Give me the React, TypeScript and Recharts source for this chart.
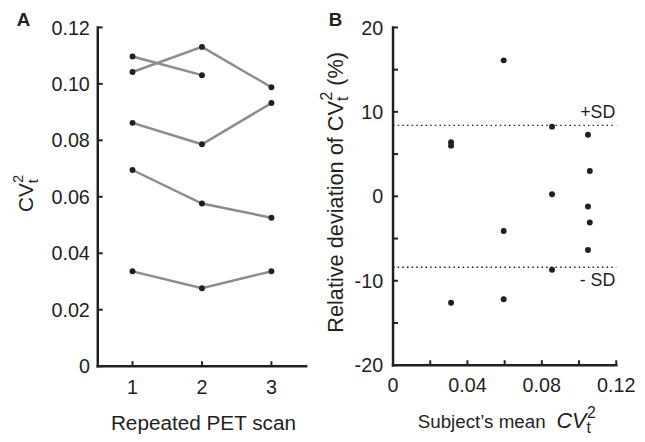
import React from 'react';
import { ComposedChart, Scatter, XAxis, YAxis, ReferenceLine } from 'recharts';

// Panel A: CVt^2 per subject over repeated PET scans
const scans = [1, 2, 3];
const subject1 = [0.1097, 0.1031];
const subject2 = [0.1042, 0.1131, 0.0988];
const subject3 = [0.0862, 0.0786, 0.0932];
const subject4 = [0.0695, 0.0576, 0.0526];
const subject5 = [0.0336, 0.0276, 0.0336];
const cvTicks = [0, 0.02, 0.04, 0.06, 0.08, 0.1, 0.12];

// Panel B: relative deviation vs subject mean
const meanCv = [0.0312, 0.0312, 0.0312, 0.0595, 0.0595, 0.0595, 0.0855, 0.0855, 0.0855, 0.1048, 0.1058, 0.1048, 0.1058, 0.1048];
const relDev = [6.0, 6.4, -12.6, 16.1, -4.1, -12.2, 8.25, 0.25, -8.7, 7.3, 3.0, -1.2, -3.1, -6.35];
const sdLimit = 8.4;
const meanTicksLabelled = [0, 0.04, 0.08, 0.12];
const meanTicksAll = [0, 0.02, 0.04, 0.06, 0.08, 0.1, 0.12];
const devTicksLabelled = [-20, -10, 0, 10, 20];
const devTicksAll = [-20, -15, -10, -5, 0, 5, 10, 15, 20];

const ink = '#231f20';
const lineGrey = '#8c8c8c';
const font = 'Arial, "Liberation Sans", Helvetica, sans-serif';

const subjects = [subject1, subject2, subject3, subject4, subject5].map(vals =>
  vals.map((v, i) => ({ x: scans[i], y: v }))
);
const devPoints = meanCv.map((x, i) => ({ x, y: relDev[i] }));

const fmt2 = (v: number) => (v === 0 ? '0' : v.toFixed(2));

const Dot = (props: any) =>
  props.cx == null ? null : <circle cx={props.cx} cy={props.cy} r={3} fill={ink} />;

// axis line drawn as a filled bar (path) along the reference line
const axisShape = (p: any) => {
  const { x1, y1, x2, y2 } = p;
  if ([x1, y1, x2, y2].some(v => typeof v !== 'number' || isNaN(v))) return null;
  const h = 1.25;
  let d;
  if (Math.abs(x1 - x2) < 0.01) {
    const top = Math.min(y1, y2) - h;
    const bot = Math.max(y1, y2) + h;
    d = `M${x1 - h},${top}H${x1 + h}V${bot}H${x1 - h}Z`;
  } else {
    const l = Math.min(x1, x2) - h;
    const r = Math.max(x1, x2) + h;
    d = `M${l},${y1 - h}H${r}V${y1 + h}H${l}Z`;
  }
  return <path d={d} fill={ink} stroke="none" />;
};

// ticks draw their own small inward mark next to the label
const yTick = (labelled: number[] | null, fmt: (v: number) => string, margin: number) => (props: any) => {
  const { x, y, payload } = props;
  const v = payload.value;
  const ax = x + margin;
  return (
    <g>
      <path d={`M${ax},${y - 1}h5v2h-5Z`} fill={ink} stroke="none" />
      {(!labelled || labelled.includes(v)) && (
        <text x={x} y={y} dy="0.36em" textAnchor="end" fontSize={20} fontFamily={font} fill={ink}>
          {fmt(v)}
        </text>
      )}
    </g>
  );
};

const xTick = (labelled: number[] | null, fmt: (v: number) => string, margin: number) => (props: any) => {
  const { x, y, payload } = props;
  const v = payload.value;
  const ay = y - margin;
  return (
    <g>
      <path d={`M${x - 1},${ay}v-5h2v5Z`} fill={ink} stroke="none" />
      {(!labelled || labelled.includes(v)) && (
        <text x={x} y={y} dy="0.71em" textAnchor="middle" fontSize={20} fontFamily={font} fill={ink}>
          {fmt(v)}
        </text>
      )}
    </g>
  );
};

const labelA_y = () => (
  <g fontFamily={font} fill={ink}>
    <text x={17} y={24} fontSize={19} fontWeight="bold">A</text>
    <text x={33} y={193} fontSize={21} textAnchor="middle" transform="rotate(-90 33 193)">
      CV<tspan fontSize={15} dy={5}>t</tspan><tspan fontSize={15} dx={-4} dy={-15}>2</tspan>
    </text>
  </g>
);

const labelA_x = () => (
  <text x={206} y={433} fontSize={21} textAnchor="middle" fontFamily={font} fill={ink}>
    Repeated PET scan
  </text>
);

const labelB_y = () => (
  <g fontFamily={font} fill={ink}>
    <text x={13} y={24} fontSize={19} fontWeight="bold">B</text>
    <text x={27} y={192} fontSize={22} textAnchor="middle" transform="rotate(-90 27 192)">
      Relative deviation of CV<tspan fontSize={16} dy={5}>t</tspan>
      <tspan fontSize={16} dx={-4} dy={-16}>2</tspan><tspan dy={11}> (%)</tspan>
    </text>
  </g>
);

const labelB_x = () => (
  <text x={103} y={431} fontSize={19} fontFamily={font} fill={ink}>
    Subject’s mean<tspan dx={11} fontSize={22} fontStyle="italic">CV</tspan>
    <tspan fontSize={16} dy={5}>t</tspan><tspan fontSize={16} dx={-4} dy={-16}>2</tspan>
  </text>
);

const sdLabel = (text: string, above: boolean) => (props: any) => {
  const vb = props.viewBox || {};
  return (
    <text x={vb.x + vb.width - 1} y={above ? vb.y - 7 : vb.y + 19} textAnchor="end"
      fontSize={18} fontFamily={font} fill={ink}>
      {text}
    </text>
  );
};

function PanelA() {
  return (
    <ComposedChart width={320} height={442} margin={{ top: 25, right: 10, bottom: 34, left: 39 }}>
      <XAxis dataKey="x" type="number" domain={[0.5, 3.5]} ticks={scans}
        axisLine={false} tickLine={false} tickSize={0} tickMargin={14}
        tick={xTick(null, (v) => String(v), 14)} height={40} label={{ content: labelA_x }} />
      <YAxis dataKey="y" type="number" domain={[0, 0.12]} ticks={cvTicks}
        axisLine={false} tickLine={false} tickSize={0} tickMargin={8}
        tick={yTick(null, fmt2, 8)} width={60} label={{ content: labelA_y }} />
      {subjects.map((pts, i) => (
        <Scatter key={i} data={pts} line={{ stroke: lineGrey, strokeWidth: 2.5 }}
          shape={Dot} isAnimationActive={false} />
      ))}
      <ReferenceLine x={0.5} ifOverflow="visible" shape={axisShape} />
      <ReferenceLine y={0} ifOverflow="visible" shape={axisShape} />
    </ComposedChart>
  );
}

function PanelB() {
  return (
    <ComposedChart width={325} height={442} margin={{ top: 25, right: 21, bottom: 35, left: 28 }}>
      <XAxis dataKey="x" type="number" domain={[0, 0.12]} ticks={meanTicksAll}
        axisLine={false} tickLine={false} tickSize={0} tickMargin={13}
        tick={xTick(meanTicksLabelled, fmt2, 13)} height={40} label={{ content: labelB_x }} />
      <YAxis dataKey="y" type="number" domain={[-20, 20]} ticks={devTicksAll}
        axisLine={false} tickLine={false} tickSize={0} tickMargin={10}
        tick={yTick(devTicksLabelled, (v) => String(v), 10)} width={50} label={{ content: labelB_y }} />
      <ReferenceLine y={sdLimit} stroke={ink} strokeWidth={1.5} strokeDasharray="1.5 3.2"
        label={{ content: sdLabel('+SD', true) }} />
      <ReferenceLine y={-sdLimit} stroke={ink} strokeWidth={1.5} strokeDasharray="1.5 3.2"
        label={{ content: sdLabel('- SD', false) }} />
      <Scatter data={devPoints} shape={Dot} isAnimationActive={false} />
      <ReferenceLine x={0} ifOverflow="visible" shape={axisShape} />
      <ReferenceLine y={-20} ifOverflow="visible" shape={axisShape} />
    </ComposedChart>
  );
}

export default function App() {
  return (
    <div style={{ display: 'flex', marginLeft: -8, marginTop: -8 }}>
      <PanelA />
      <PanelB />
    </div>
  );
}
